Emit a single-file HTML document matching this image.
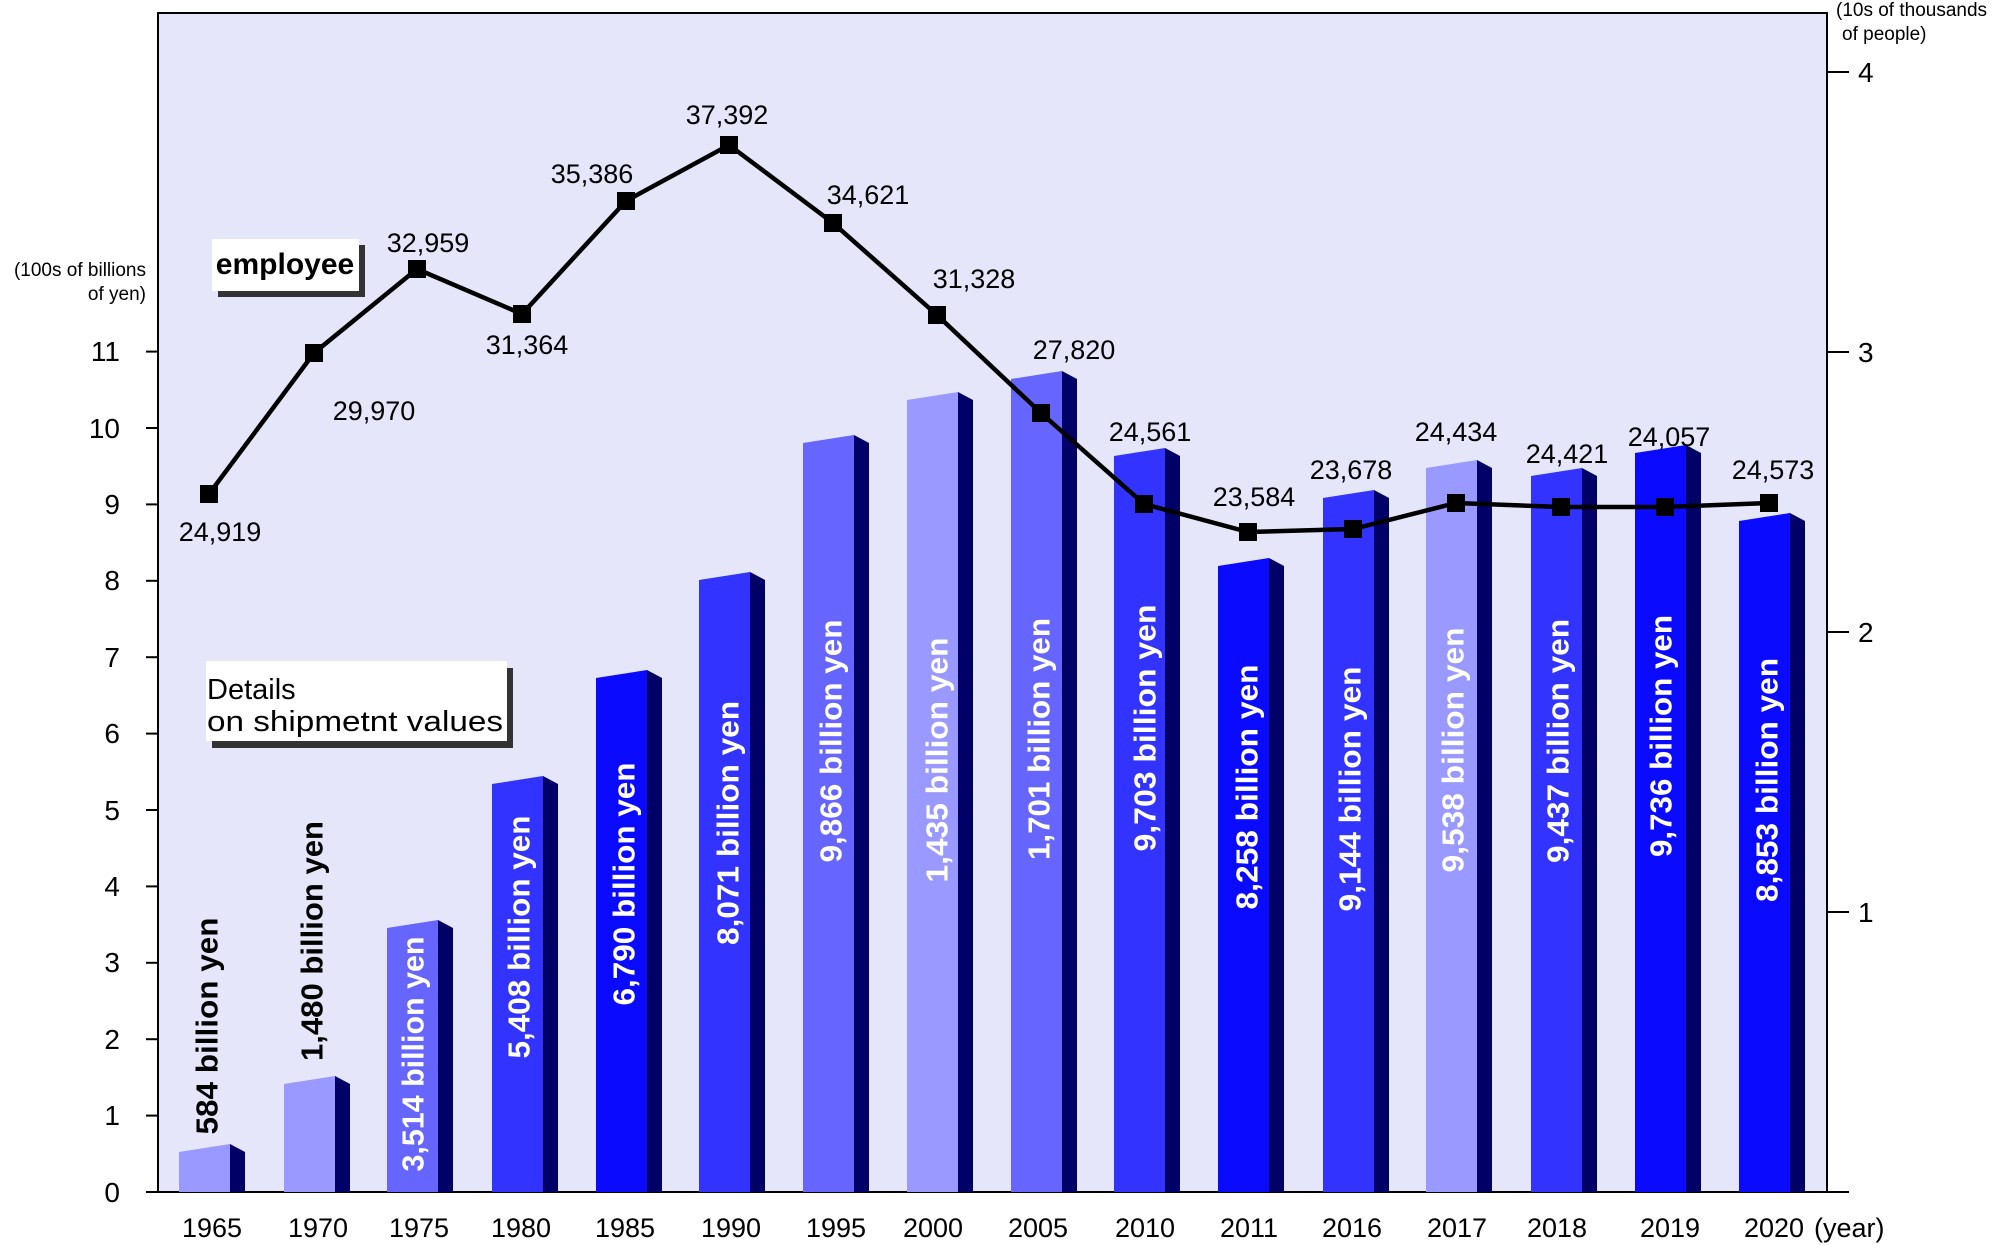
<!DOCTYPE html>
<html><head><meta charset="utf-8"><style>
html,body{margin:0;padding:0;background:#fff}
svg{display:block}
text{font-family:"Liberation Sans",sans-serif}
</style></head><body>
<svg width="2000" height="1245" viewBox="0 0 2000 1245" xmlns="http://www.w3.org/2000/svg">
<rect x="158" y="13" width="1669" height="1179" fill="#e6e6fb" stroke="#000" stroke-width="2"/>
<!-- left ticks -->
<g stroke="#000" stroke-width="2">
<line x1="146" y1="1192" x2="1849" y2="1192"/>
<line x1="146" y1="1115.6" x2="158" y2="1115.6"/><line x1="146" y1="1039.2" x2="158" y2="1039.2"/>
<line x1="146" y1="962.8" x2="158" y2="962.8"/><line x1="146" y1="886.4" x2="158" y2="886.4"/>
<line x1="146" y1="810" x2="158" y2="810"/><line x1="146" y1="733.6" x2="158" y2="733.6"/>
<line x1="146" y1="657.2" x2="158" y2="657.2"/><line x1="146" y1="580.8" x2="158" y2="580.8"/>
<line x1="146" y1="504.4" x2="158" y2="504.4"/><line x1="146" y1="428" x2="158" y2="428"/>
<line x1="146" y1="351.6" x2="158" y2="351.6"/>
<line x1="1827" y1="912" x2="1849" y2="912"/><line x1="1827" y1="632" x2="1849" y2="632"/>
<line x1="1827" y1="352" x2="1849" y2="352"/><line x1="1827" y1="72" x2="1849" y2="72"/>
</g>
<g font-size="28" text-anchor="end">
<text x="120" y="1202">0</text><text x="120" y="1125">1</text><text x="120" y="1049">2</text>
<text x="120" y="972">3</text><text x="120" y="896">4</text><text x="120" y="820">5</text>
<text x="120" y="743">6</text><text x="120" y="667">7</text><text x="120" y="590">8</text>
<text x="120" y="514">9</text><text x="120" y="438">10</text><text x="120" y="361">11</text>
</g>
<g font-size="28"><text x="1858" y="922">1</text><text x="1858" y="642">2</text><text x="1858" y="362">3</text><text x="1858" y="82">4</text></g>
<g font-size="19"><text x="146" y="276" text-anchor="end">(100s of billions</text><text x="146" y="300" text-anchor="end">of yen)</text>
<text x="1836" y="16">(10s of thousands</text><text x="1842" y="40">of people)</text></g>
<!-- bars -->
<g>
<polygon points="179,1152 230,1144 230,1192 179,1192" fill="#9999ff"/><polygon points="230,1144 245,1152 245,1192 230,1192" fill="#000066"/>
<polygon points="284,1084 335,1076 335,1192 284,1192" fill="#9999ff"/><polygon points="335,1076 350,1084 350,1192 335,1192" fill="#000066"/>
<polygon points="387,928 438,920 438,1192 387,1192" fill="#6666ff"/><polygon points="438,920 453,928 453,1192 438,1192" fill="#000066"/>
<polygon points="492,784 543,776 543,1192 492,1192" fill="#3333ff"/><polygon points="543,776 558,784 558,1192 543,1192" fill="#000066"/>
<polygon points="596,678 647,670 647,1192 596,1192" fill="#0a0aff"/><polygon points="647,670 662,678 662,1192 647,1192" fill="#000066"/>
<polygon points="699,580 750,572 750,1192 699,1192" fill="#3333ff"/><polygon points="750,572 765,580 765,1192 750,1192" fill="#000066"/>
<polygon points="803,443 854,435 854,1192 803,1192" fill="#6666ff"/><polygon points="854,435 869,443 869,1192 854,1192" fill="#000066"/>
<polygon points="907,400 958,392 958,1192 907,1192" fill="#9999ff"/><polygon points="958,392 973,400 973,1192 958,1192" fill="#000066"/>
<polygon points="1011,379 1062,371 1062,1192 1011,1192" fill="#6666ff"/><polygon points="1062,371 1077,379 1077,1192 1062,1192" fill="#000066"/>
<polygon points="1114,456 1165,448 1165,1192 1114,1192" fill="#3333ff"/><polygon points="1165,448 1180,456 1180,1192 1165,1192" fill="#000066"/>
<polygon points="1218,566 1269,558 1269,1192 1218,1192" fill="#0a0aff"/><polygon points="1269,558 1284,566 1284,1192 1269,1192" fill="#000066"/>
<polygon points="1323,498 1374,490 1374,1192 1323,1192" fill="#3333ff"/><polygon points="1374,490 1389,498 1389,1192 1374,1192" fill="#000066"/>
<polygon points="1426,468 1477,460 1477,1192 1426,1192" fill="#9999ff"/><polygon points="1477,460 1492,468 1492,1192 1477,1192" fill="#000066"/>
<polygon points="1531,476 1582,468 1582,1192 1531,1192" fill="#3333ff"/><polygon points="1582,468 1597,476 1597,1192 1582,1192" fill="#000066"/>
<polygon points="1635,453 1686,445 1686,1192 1635,1192" fill="#0a0aff"/><polygon points="1686,445 1701,453 1701,1192 1686,1192" fill="#000066"/>
<polygon points="1739,521 1790,513 1790,1192 1739,1192" fill="#0a0aff"/><polygon points="1790,513 1805,521 1805,1192 1790,1192" fill="#000066"/>
</g>
<!-- bar labels -->
<g font-size="31" font-weight="bold" text-anchor="middle" dominant-baseline="central" lengthAdjust="spacingAndGlyphs">
<text transform="translate(207,1026) rotate(-90)" textLength="217" lengthAdjust="spacingAndGlyphs" fill="#000">584 billion yen</text>
<text transform="translate(312,941) rotate(-90)" textLength="240" lengthAdjust="spacingAndGlyphs" fill="#000">1,480 billion yen</text>
<text transform="translate(413,1054) rotate(-90)" textLength="235" lengthAdjust="spacingAndGlyphs" fill="#fff">3,514 billion yen</text>
<text transform="translate(519,937) rotate(-90)" textLength="243" lengthAdjust="spacingAndGlyphs" fill="#fff">5,408 billion yen</text>
<text transform="translate(624,884) rotate(-90)" textLength="243" lengthAdjust="spacingAndGlyphs" fill="#fff">6,790 billion yen</text>
<text transform="translate(728,823) rotate(-90)" textLength="244" lengthAdjust="spacingAndGlyphs" fill="#fff">8,071 billion yen</text>
<text transform="translate(831,741) rotate(-90)" textLength="243" lengthAdjust="spacingAndGlyphs" fill="#fff">9,866 billion yen</text>
<text transform="translate(937,760) rotate(-90)" textLength="245" lengthAdjust="spacingAndGlyphs" fill="#fff">1,435 billion yen</text>
<text transform="translate(1039,739) rotate(-90)" textLength="242" lengthAdjust="spacingAndGlyphs" fill="#fff">1,701 billion yen</text>
<text transform="translate(1145,728) rotate(-90)" textLength="247" lengthAdjust="spacingAndGlyphs" fill="#fff">9,703 billion yen</text>
<text transform="translate(1247,787) rotate(-90)" textLength="245" lengthAdjust="spacingAndGlyphs" fill="#fff">8,258 billion yen</text>
<text transform="translate(1350,789) rotate(-90)" textLength="245" lengthAdjust="spacingAndGlyphs" fill="#fff">9,144 billion yen</text>
<text transform="translate(1453,750) rotate(-90)" textLength="245" lengthAdjust="spacingAndGlyphs" fill="#fff">9,538 billion yen</text>
<text transform="translate(1558,741) rotate(-90)" textLength="244" lengthAdjust="spacingAndGlyphs" fill="#fff">9,437 billion yen</text>
<text transform="translate(1661,736) rotate(-90)" textLength="242" lengthAdjust="spacingAndGlyphs" fill="#fff">9,736 billion yen</text>
<text transform="translate(1767,780) rotate(-90)" textLength="244" lengthAdjust="spacingAndGlyphs" fill="#fff">8,853 billion yen</text>
</g>
<!-- line -->
<polyline fill="none" stroke="#000" stroke-width="4.5" stroke-linejoin="miter" points="209,494 314,353 417,269 522,314 626,201 729,145 833,223 937,315 1041,413 1144,504 1248,532 1353,529 1456,503 1561,507 1665,507 1769,503"/>
<g fill="#000">
<rect x="200" y="485" width="18" height="18"/><rect x="305" y="344" width="18" height="18"/>
<rect x="408" y="260" width="18" height="18"/><rect x="513" y="305" width="18" height="18"/>
<rect x="617" y="192" width="18" height="18"/><rect x="720" y="136" width="18" height="18"/>
<rect x="824" y="214" width="18" height="18"/><rect x="928" y="306" width="18" height="18"/>
<rect x="1032" y="404" width="18" height="18"/><rect x="1135" y="495" width="18" height="18"/>
<rect x="1239" y="523" width="18" height="18"/><rect x="1344" y="520" width="18" height="18"/>
<rect x="1447" y="494" width="18" height="18"/><rect x="1552" y="498" width="18" height="18"/>
<rect x="1656" y="498" width="18" height="18"/><rect x="1760" y="494" width="18" height="18"/>
</g>
<g font-size="27" text-anchor="middle">
<text x="220" y="541">24,919</text><text x="374" y="420">29,970</text><text x="428" y="252">32,959</text>
<text x="527" y="354">31,364</text><text x="592" y="183">35,386</text><text x="727" y="124">37,392</text>
<text x="868" y="204">34,621</text><text x="974" y="288">31,328</text><text x="1074" y="359">27,820</text>
<text x="1150" y="441">24,561</text><text x="1254" y="506">23,584</text><text x="1351" y="479">23,678</text>
<text x="1456" y="441">24,434</text><text x="1567" y="463">24,421</text><text x="1669" y="446">24,057</text>
<text x="1773" y="479">24,573</text>
</g>
<!-- legends -->
<rect x="218" y="245" width="147" height="52" fill="#333"/>
<rect x="212" y="239" width="147" height="52" fill="#fff"/>
<text x="285" y="274" font-size="30" font-weight="bold" text-anchor="middle">employee</text>
<rect x="212" y="668" width="301" height="80" fill="#333"/>
<rect x="206" y="661" width="301" height="80" fill="#fff"/>
<text x="207" y="699" font-size="29">Details</text>
<text x="207" y="731" font-size="29" textLength="296" lengthAdjust="spacingAndGlyphs">on shipmetnt values</text>
<!-- x labels -->
<g font-size="27" text-anchor="middle">
<text x="212" y="1237">1965</text><text x="318" y="1237">1970</text><text x="419" y="1237">1975</text>
<text x="521" y="1237">1980</text><text x="625" y="1237">1985</text><text x="731" y="1237">1990</text>
<text x="836" y="1237">1995</text><text x="933" y="1237">2000</text><text x="1038" y="1237">2005</text>
<text x="1145" y="1237">2010</text><text x="1249" y="1237">2011</text><text x="1352" y="1237">2016</text>
<text x="1457" y="1237">2017</text><text x="1557" y="1237">2018</text><text x="1670" y="1237">2019</text>
<text x="1774" y="1237">2020</text>
</g>
<text x="1814" y="1237" font-size="27">(year)</text>
</svg>
</body></html>
